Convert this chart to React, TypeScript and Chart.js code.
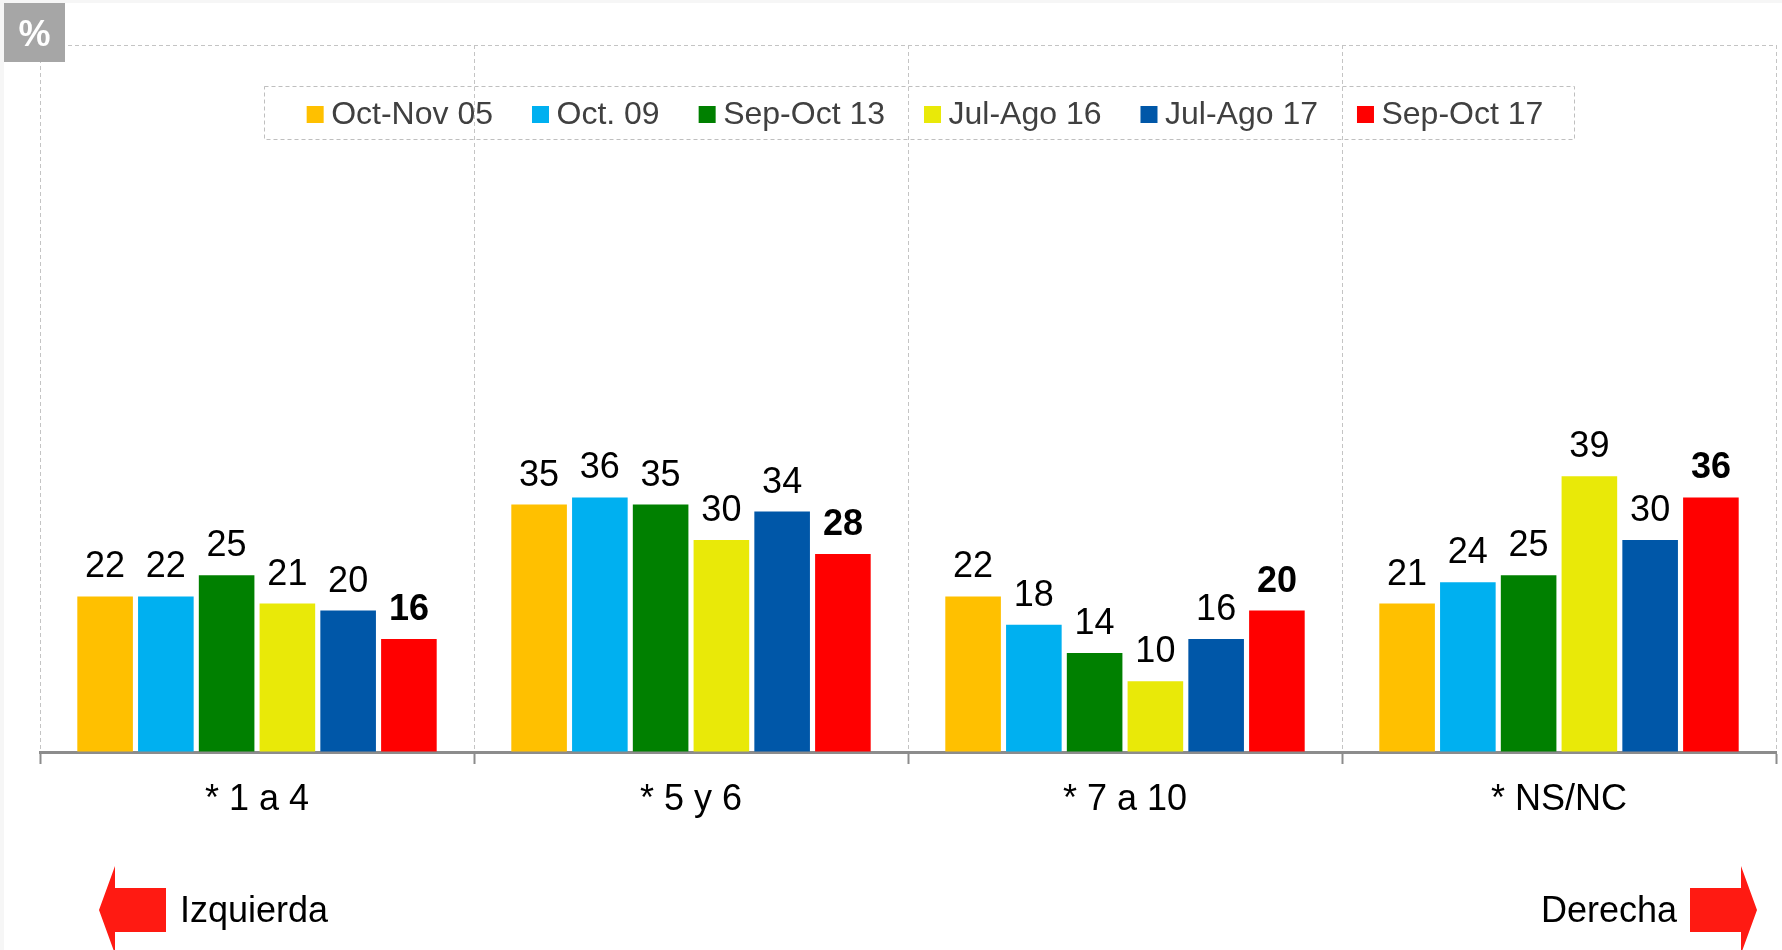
import React, { useEffect, useRef } from "react";
import { Chart, registerables } from "chart.js";

Chart.register(...registerables);

const FAMILY = "'Liberation Sans', Arial, Helvetica, sans-serif";

const categories = ["* 1 a 4", "* 5 y 6", "* 7 a 10", "* NS/NC"];
const seriesLabels = ["Oct-Nov 05", "Oct. 09", "Sep-Oct 13", "Jul-Ago 16", "Jul-Ago 17", "Sep-Oct 17"];
const octNov05 = [22, 35, 22, 21];
const oct09 = [22, 36, 18, 24];
const sepOct13 = [25, 35, 14, 25];
const julAgo16 = [21, 30, 10, 39];
const julAgo17 = [20, 34, 16, 30];
const sepOct17 = [16, 28, 20, 36];
const seriesColors = ["#FFC000", "#00B0F0", "#008000", "#E9E908", "#0057A8", "#FF0000"];
const yMin = 0;
const yMax = 100;
const unitLabel = "%";
const leftLabel = "Izquierda";
const rightLabel = "Derecha";

const W = 1782;
const H = 950;

const decorPlugin = {
  id: "decor",
  beforeDraw(chart: any) {
    const ctx = chart.ctx;
    ctx.save();
    ctx.fillStyle = "#f6f6f6";
    ctx.fillRect(0, 0, W, H);
    ctx.fillStyle = "#ffffff";
    ctx.fillRect(4, 3, W - 4, H - 3);
    ctx.restore();
  },
  afterDatasetsDraw(chart: any) {
    const ctx = chart.ctx;
    ctx.save();
    ctx.fillStyle = "#000";
    ctx.textAlign = "center";
    ctx.textBaseline = "alphabetic";
    chart.data.datasets.forEach((ds: any, i: number) => {
      const meta = chart.getDatasetMeta(i);
      const last = i === chart.data.datasets.length - 1;
      ctx.font = `${last ? "bold " : ""}36px ${FAMILY}`;
      meta.data.forEach((bar: any, j: number) => {
        ctx.fillText(String(ds.data[j]), bar.x, bar.y - 19);
      });
    });
    ctx.restore();
  },
  afterDraw(chart: any) {
    const ctx = chart.ctx;
    ctx.save();
    // % box
    ctx.fillStyle = "#a6a6a6";
    ctx.fillRect(4, 3, 61, 59);
    ctx.fillStyle = "#ffffff";
    ctx.font = `bold 36px ${FAMILY}`;
    ctx.textAlign = "center";
    ctx.textBaseline = "middle";
    ctx.fillText(unitLabel, 34.5, 36);

    // legend
    const datasets = chart.data.datasets;
    ctx.font = `32px ${FAMILY}`;
    const marker = 17;
    const gapText = 7.5;
    const spacing = 39;
    const widths = datasets.map((d: any) => ctx.measureText(d.label).width);
    const total = widths.reduce((a: number, b: number) => a + b, 0) + datasets.length * (marker + gapText) + (datasets.length - 1) * spacing;
    const cx = 925;
    let x = cx - total / 2;
    const yc = 114;
    ctx.strokeStyle = "#bfbfbf";
    ctx.lineWidth = 1;
    ctx.setLineDash([4, 3]);
    ctx.strokeRect(264.5, 86.5, 1310, 53);
    ctx.setLineDash([]);
    ctx.textAlign = "left";
    ctx.textBaseline = "middle";
    datasets.forEach((d: any, i: number) => {
      ctx.fillStyle = d.backgroundColor;
      ctx.fillRect(x, yc - 8, marker, marker);
      ctx.fillStyle = "#404040";
      ctx.fillText(d.label, x + marker + gapText, yc + 1);
      x += marker + gapText + widths[i] + spacing;
    });

    // arrows
    ctx.fillStyle = "#ff1a12";
    ctx.beginPath();
    ctx.moveTo(99, 910);
    ctx.lineTo(115, 866);
    ctx.lineTo(115, 888);
    ctx.lineTo(166, 888);
    ctx.lineTo(166, 932);
    ctx.lineTo(115, 932);
    ctx.lineTo(115, 954);
    ctx.closePath();
    ctx.fill();

    ctx.beginPath();
    ctx.moveTo(1757, 910);
    ctx.lineTo(1741, 866);
    ctx.lineTo(1741, 888);
    ctx.lineTo(1690, 888);
    ctx.lineTo(1690, 932);
    ctx.lineTo(1741, 932);
    ctx.lineTo(1741, 954);
    ctx.closePath();
    ctx.fill();

    ctx.fillStyle = "#000";
    ctx.font = `36px ${FAMILY}`;
    ctx.textBaseline = "alphabetic";
    ctx.textAlign = "left";
    ctx.fillText(leftLabel, 180, 922);
    ctx.textAlign = "right";
    ctx.fillText(rightLabel, 1677, 922);
    ctx.restore();
  },
};

export default function App() {
  const ref = useRef<HTMLCanvasElement | null>(null);

  useEffect(() => {
    if (!ref.current) return;
    const seriesData = [octNov05, oct09, sepOct13, julAgo16, julAgo17, sepOct17];
    const chart = new Chart(ref.current, {
      type: "bar",
      data: {
        labels: categories,
        datasets: seriesData.map((d, i) => ({
          label: seriesLabels[i],
          data: d,
          backgroundColor: seriesColors[i],
          borderWidth: 0,
          categoryPercentage: 0.84,
          barPercentage: 0.915,
        })),
      },
      options: {
        responsive: false,
        animation: false,
        devicePixelRatio: 1,
        layout: { padding: { left: 40, right: 6, top: 45, bottom: 0 } },
        plugins: {
          legend: { display: false },
          tooltip: { enabled: false },
        },
        scales: {
          x: {
            grid: {
              offset: true,
              color: "#c4c4c4",
              lineWidth: 1,
              tickColor: "#8c8c8c",
              tickLength: 12,
              tickWidth: 2,
            },
            border: { display: true, color: "#8c8c8c", width: 3, dash: [4, 3] },
            ticks: {
              color: "#000",
              font: { size: 36, family: FAMILY },
              padding: 14,
            },
            afterFit: (s: any) => {
              s.height = 198;
            },
          },
          y: {
            min: yMin,
            max: yMax,
            ticks: { display: false, stepSize: yMax - yMin },
            grid: {
              drawTicks: false,
              color: (c: any) => (c.tick && c.tick.value === yMax ? "#c4c4c4" : "rgba(0,0,0,0)"),
            },
            border: { display: false, dash: [4, 3] },
            afterFit: (s: any) => {
              s.width = 0;
            },
          },
        },
      },
      plugins: [decorPlugin],
    } as any);
    return () => chart.destroy();
  }, []);

  return (
    <div style={{ position: "absolute", left: 0, top: 0, width: W, height: H, overflow: "hidden", background: "#fff" }}>
      <canvas ref={ref} width={W} height={H} style={{ display: "block", width: W, height: H }} />
    </div>
  );
}
